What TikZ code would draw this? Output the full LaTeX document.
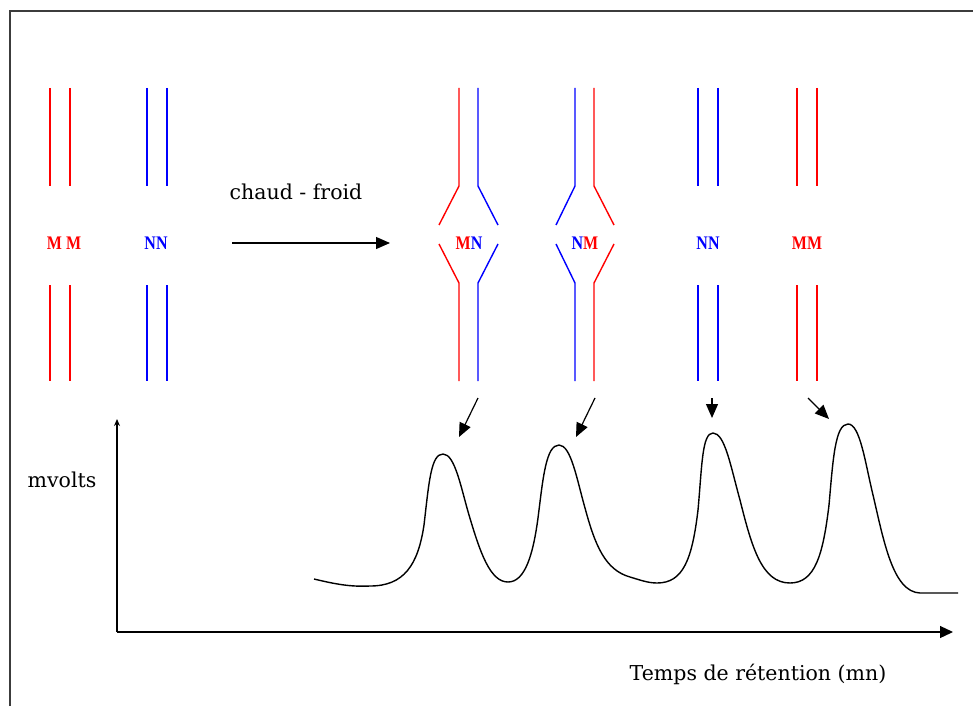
\documentclass[tikz,border=0pt]{standalone}
\usepackage{fontspec}
\setmainfont{DejaVu Serif}
\newfontfamily\tagfont{Liberation Serif}
\usetikzlibrary{arrows.meta}
\definecolor{chrred}{RGB}{255,0,0}
\definecolor{chrblue}{RGB}{0,0,255}
\definecolor{framegray}{RGB}{60,60,60}
\newcommand\tall[1]{\scalebox{1}[1.2]{#1}}
\newcommand\rd[1]{\textcolor{chrred}{#1}}
\newcommand\bl[1]{\textcolor{chrblue}{#1}}
\tikzset{
  strand/.style={line width=1.4pt},
  redstrand/.style={strand,chrred},
  bluestrand/.style={strand,chrblue},
  tag/.style={inner sep=0pt,font=\tagfont\bfseries\fontsize{16}{16}\selectfont},
  caption/.style={inner sep=0pt,font=\fontsize{20.5}{20.5}\selectfont},
  bigarrow/.style={line width=1.2pt,-{Triangle[length=14pt,width=12pt]}},
  axis/.style={line width=1.2pt},
  trace/.style={line width=1.4pt,line join=round},
}
\begin{document}
\begin{tikzpicture}[x=1pt,y=-1pt]
  \useasboundingbox (0,0) rectangle (973,706);
  \fill[white] (0,0) rectangle (973,706);
  % outer frame (left and top edges)
  \draw[framegray,line width=1.6pt] (10,706) -- (10,11) -- (973,11);

  % parent pairs
  \foreach \x in {50,70} \draw[redstrand] (\x,88) -- (\x,186) (\x,285) -- (\x,381);
  \foreach \x in {147,167} \draw[bluestrand] (\x,88) -- (\x,186) (\x,285) -- (\x,381);
  \node[tag] (pMM) at (64,243) {\tall{\rd{M M}}};
  \node[tag] (pNN) at (156,243) {\tall{\bl{NN}}};

  % heating / cooling step
  \coordinate (h0) at (232,243);
  \coordinate (h1) at (390,243);
  \draw[bigarrow] (h0) -- (h1);
  \node[caption] (hc) at (296,192) {chaud - froid};

  % heteroduplex MN
  \draw[redstrand] (459,88) -- (459,186) -- (439,225) (439,244) -- (459,283) -- (459,381);
  \draw[bluestrand] (478,88) -- (478,186) -- (498,225) (498,244) -- (478,283) -- (478,381);
  \node[tag] (hMN) at (469,243) {\tall{\rd{M}\bl{N}}};

  % heteroduplex NM
  \draw[bluestrand] (575,88) -- (575,186) -- (556,225) (556,244) -- (575,283) -- (575,381);
  \draw[redstrand] (594,88) -- (594,186) -- (614,225) (614,244) -- (594,283) -- (594,381);
  \node[tag] (hNM) at (585,243) {\tall{\bl{N}\rd{M}}};

  % homoduplexes NN and MM
  \foreach \x in {698,718} \draw[bluestrand] (\x,88) -- (\x,186) (\x,285) -- (\x,381);
  \node[tag] (hNN) at (708,243) {\tall{\bl{NN}}};
  \foreach \x in {797,817} \draw[redstrand] (\x,88) -- (\x,186) (\x,285) -- (\x,381);
  \node[tag] (hMM) at (807,243) {\tall{\rd{MM}}};

  % arrows to the peaks
  \coordinate (s1) at (478,398); \coordinate (e1) at (459,437);
  \coordinate (s2) at (595,398); \coordinate (e2) at (576,437);
  \coordinate (s3) at (712,398); \coordinate (e3) at (712,418);
  \coordinate (s4) at (808,398); \coordinate (e4) at (829,419);
  \foreach \i in {1,2,3,4} \draw[bigarrow] (s\i) -- (e\i);

  % axes
  \coordinate (O) at (117,632);
  \coordinate (ytop) at (117,419);
  \coordinate (xend) at (953,632);
  \draw[axis,-{Stealth[length=7pt,width=6pt]}] (O) -- (ytop);
  \draw[axis,-{Triangle[length=13pt,width=12pt]}] (O) -- (xend);
  \node[caption] (ylab) at (62,480) {mvolts};
  \node[caption] (xlab) at (758,674) {Temps de rétention (mn)};

  % detector trace: four peaks
  \draw[trace] (314,579)
    .. controls (335,584) and (350,587) .. (370,586)
    % peak MN
    .. controls (404,586) and (418,565) .. (424,525)
    .. controls (429,482) and (431,454) .. (443,454)
    .. controls (455,454) and (461,488) .. (469,515)
    .. controls (480,552) and (490,582) .. (508,582)
    % peak NM
    .. controls (525,582) and (533,555) .. (538,518)
    .. controls (543,478) and (546,445) .. (559,445)
    .. controls (571,445) and (577,480) .. (585,508)
    .. controls (595,545) and (605,570) .. (630,577)
    .. controls (640,580) and (648,583) .. (657,583)
    % peak NN
    .. controls (683,583) and (692,560) .. (698,510)
    .. controls (702,466) and (702,433) .. (713,433)
    .. controls (725,433) and (731,468) .. (740,500)
    .. controls (752,548) and (762,583) .. (790,583)
    % peak MM
    .. controls (815,583) and (823,555) .. (829,505)
    .. controls (833,460) and (835,424) .. (848,424)
    .. controls (860,424) and (865,462) .. (873,495)
    .. controls (884,542) and (893,592) .. (920,593)
    -- (958,593);
\end{tikzpicture}
\end{document}
